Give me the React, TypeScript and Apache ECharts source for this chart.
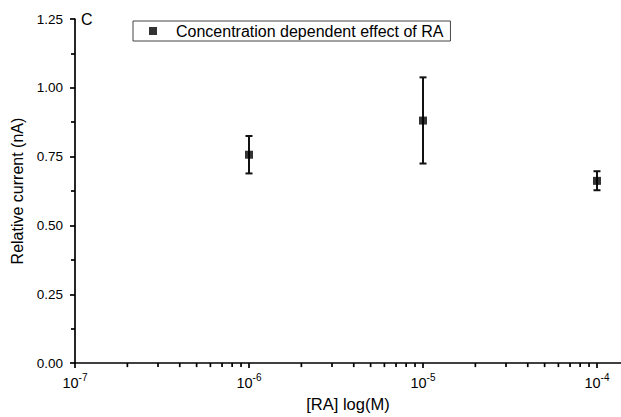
import React, { useEffect, useRef } from "react";
import * as echarts from "echarts";

const concentrationsLog = [-6, -5, -4];
const meanCurrent = [0.757, 0.881, 0.662];
const errLow = [0.689, 0.725, 0.628];
const errHigh = [0.825, 1.038, 0.697];
const xTickLabels = [-7, -6, -5, -4];
const yTicks = [0, 0.25, 0.5, 0.75, 1.0, 1.25];
const minorDecades = [-7, -6, -5, -4];
const minorMultipliers = [2, 3, 4, 5, 6, 7, 8, 9];
const seriesName = "Concentration dependent effect of RA";

const FONT = "'Liberation Sans', Arial, Helvetica, sans-serif";

export default function App() {
  const ref = useRef<HTMLDivElement>(null);
  useEffect(() => {
    if (!ref.current) return;
    const chart = echarts.init(ref.current, null, { renderer: "svg" });
    const xMin = -7;
    const xMax = -3.862;
    const minorPts: number[][] = [];
    minorDecades.forEach((d) =>
      minorMultipliers.forEach((m) => {
        const v = d + Math.log10(m);
        if (v < xMax) minorPts.push([v, 0]);
      })
    );
    const errData = concentrationsLog.map((x, i) => [x, errLow[i], errHigh[i]]);
    const pts = concentrationsLog.map((x, i) => [x, meanCurrent[i]]);
    chart.setOption({
      animation: false,
      textStyle: { fontFamily: FONT },
      title: {
        text: "C",
        left: 76,
        top: 6,
        textStyle: { fontFamily: FONT, fontSize: 16, fontWeight: "normal", color: "#000" },
      },
      legend: {
        left: 133,
        top: 21,
        orient: "horizontal",
        borderColor: "#444",
        borderWidth: 1,
        borderRadius: 0,
        padding: [2, 7, 2, 16],
        itemWidth: 8,
        itemHeight: 8,
        icon: "rect",
        data: [{ name: seriesName, icon: "rect" }],
        textStyle: { fontFamily: FONT, fontSize: 16, color: "#000", padding: [0, 0, 0, 14] },
      },
      grid: { left: 75, right: 0, top: 19, bottom: 52, containLabel: false },
      xAxis: {
        type: "value",
        min: xMin,
        max: xMax,
        interval: 1,
        name: "[RA] log(M)",
        nameLocation: "middle",
        nameGap: 31,
        nameTextStyle: { fontFamily: FONT, fontSize: 16.5, color: "#000" },
        axisLine: { show: true, onZero: false, lineStyle: { color: "#000", width: 1.7 } },
        axisTick: { show: true, inside: false, length: 5, lineStyle: { color: "#000", width: 1.7 } },
        splitLine: { show: false },
        axisLabel: {
          margin: 9,
          showMaxLabel: false,
          color: "#000",
          formatter: (v: number) =>
            xTickLabels.includes(Math.round(v)) && Math.abs(v - Math.round(v)) < 1e-6
              ? `{b|10}{s|${Math.round(v)}}`
              : "",
          rich: {
            b: { fontFamily: FONT, fontSize: 14.5, color: "#000", lineHeight: 18, verticalAlign: "bottom" },
            s: { fontFamily: FONT, fontSize: 10, color: "#000", lineHeight: 18, verticalAlign: "top" },
          },
        },
      },
      yAxis: {
        type: "value",
        min: yTicks[0],
        max: yTicks[yTicks.length - 1],
        interval: 0.25,
        name: "Relative current (nA)",
        nameLocation: "middle",
        nameGap: 46,
        nameTextStyle: { fontFamily: FONT, fontSize: 16, color: "#000" },
        axisLine: { show: true, lineStyle: { color: "#000", width: 1.7 } },
        axisTick: { show: true, inside: false, length: 5, lineStyle: { color: "#000", width: 1.7 } },
        minorTick: { show: true, splitNumber: 2, length: 4, lineStyle: { color: "#000", width: 1.7 } },
        splitLine: { show: false },
        axisLabel: {
          margin: 12,
          color: "#000",
          fontFamily: FONT,
          fontSize: 13.5,
          formatter: (v: number) => v.toFixed(2),
        },
      },
      series: [
        {
          type: "custom",
          name: "minorTicks",
          silent: true,
          clip: false,
          z: 5,
          data: minorPts,
          renderItem: (params: any, api: any) => {
            const p = api.coord([api.value(0), api.value(1)]);
            return {
              type: "line",
              shape: { x1: p[0], y1: p[1], x2: p[0], y2: p[1] + 4 },
              style: { stroke: "#000", lineWidth: 1.7 },
            };
          },
        },
        {
          type: "custom",
          name: "errorBars",
          silent: true,
          data: errData,
          z: 3,
          renderItem: (params: any, api: any) => {
            const x = api.value(0);
            const lo = api.coord([x, api.value(1)]);
            const hi = api.coord([x, api.value(2)]);
            const cap = 3.5;
            const style = { stroke: "#111", lineWidth: 2 };
            return {
              type: "group",
              children: [
                { type: "line", shape: { x1: lo[0], y1: lo[1], x2: hi[0], y2: hi[1] }, style },
                { type: "line", shape: { x1: hi[0] - cap, y1: hi[1], x2: hi[0] + cap, y2: hi[1] }, style },
                { type: "line", shape: { x1: lo[0] - cap, y1: lo[1], x2: lo[0] + cap, y2: lo[1] }, style },
              ],
            };
          },
        },
        {
          type: "scatter",
          name: seriesName,
          data: pts,
          symbol: "rect",
          symbolSize: 8,
          z: 4,
          itemStyle: { color: "#000" },
        },
      ],
    });
    return () => chart.dispose();
  }, []);
  return (
    <div
      ref={ref}
      style={{ position: "fixed", left: 0, top: 0, width: 621, height: 417, background: "#fff" }}
    />
  );
}
